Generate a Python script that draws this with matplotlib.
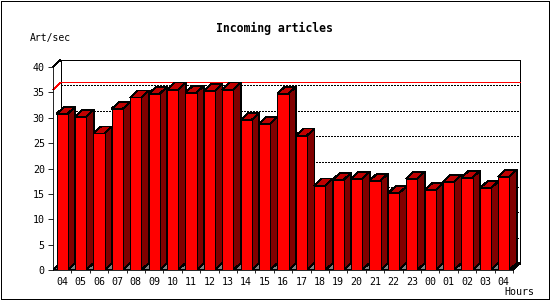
import matplotlib
matplotlib.use("Agg")
import matplotlib.pyplot as plt
from matplotlib.patches import Polygon, Rectangle
from matplotlib.ticker import FixedLocator

hours = ["04", "05", "06", "07", "08", "09", "10", "11", "12", "13", "14", "15", "16",
         "17", "18", "19", "20", "21", "22", "23", "00", "01", "02", "03", "04"]
rates = [30.8, 30.2, 26.9, 31.8, 34.0, 34.75, 35.55, 34.95, 35.3, 35.55, 29.6, 28.85, 34.75,
         26.5, 16.65, 17.8, 18.0, 17.6, 15.1, 18.0, 15.7, 17.4, 18.2, 16.1, 18.4]
yticks = [0, 5, 10, 15, 20, 25, 30, 35, 40]
title = "Incoming articles"
ylabel = "Art/sec"
xlabel = "Hours"

W, H, DPI = 550, 300, 100
fig = plt.figure(figsize=(W / DPI, H / DPI), dpi=DPI)

n = len(rates)
ymax = 40
left_px, right_px, bot_px, top_px = 53, 521, 270, 60
slot_px = 18.4
depth_x_px, depth_y_px = 7.5, 7.0
ppu_y = (bot_px - top_px - depth_y_px) / ymax
dx = depth_x_px / slot_px
dy = depth_y_px / ppu_y

ax = fig.add_axes([left_px / W, 1 - bot_px / H, (right_px - left_px) / W, (bot_px - top_px) / H])
ax.set_xlim(0, (right_px - left_px) / slot_px)
ax.set_ylim(0, ymax + dy)
ax.patch.set_visible(False)

lw = 0.6
fs = 7.2
mono = "DejaVu Sans Mono"

for s in ("top", "right"):
    ax.spines[s].set_visible(False)
ax.spines["left"].set_bounds(0, ymax)
ax.spines["bottom"].set_bounds(0, n)
for s in ("left", "bottom"):
    ax.spines[s].set_linewidth(lw)
    ax.spines[s].set_zorder(10)

def line(xs, ys, **kw):
    kw.setdefault("color", "black")
    kw.setdefault("lw", lw)
    ax.plot(xs, ys, solid_capstyle="butt", antialiased=False, clip_on=False, **kw)

# back box
line([dx, dx, n + dx, n + dx], [dy, ymax + dy, ymax + dy, dy], zorder=1)
line([0, dx], [ymax, ymax + dy], zorder=1)
# dotted grid on back plane
for v in yticks[1:-1]:
    ax.plot([dx, n + dx], [v + dy, v + dy], color="black", lw=lw, linestyle=(0, (2.4, 2.4)),
            antialiased=False, zorder=1)
# max line
m = max(rates)
line([0, dx, n + dx], [m, m + dy, m + dy], color="#ff0000", zorder=1.5)

# floor
ax.add_patch(Polygon([(0, 0), (n, 0), (n + dx, dy), (dx, dy)], closed=True,
                     fc="#808080", ec="black", lw=lw, antialiased=False, zorder=2))

# 3D bars
bw = 0.6
off = 0.2
for i, v in enumerate(rates):
    x0 = i + off
    x1 = x0 + bw
    z = 3 + i * 0.01
    ax.add_patch(Polygon([(x1, 0), (x1 + dx, dy), (x1 + dx, v + dy), (x1, v)], closed=True,
                         fc="#800000", ec="black", lw=lw, antialiased=False, zorder=z))
    ax.add_patch(Polygon([(x0, v), (x1, v), (x1 + dx, v + dy), (x0 + dx, v + dy)], closed=True,
                         fc="#c00000", ec="black", lw=lw, antialiased=False, zorder=z))
    ax.add_patch(Rectangle((x0, 0), bw, v, fc="#ff0000", ec="black", lw=lw,
                           antialiased=False, zorder=z))

line([n, n + dx], [0, dy], zorder=9)

# ticks
ax.yaxis.set_major_locator(FixedLocator(yticks))
ax.set_yticklabels([str(t) for t in yticks], fontsize=fs, family=mono)
ax.tick_params(axis="y", length=3.6, width=lw, pad=2.3, direction="out")
ax.xaxis.set_major_locator(FixedLocator([i + 0.5 for i in range(n)]))
ax.set_xticklabels(hours, fontsize=fs, family=mono)
ax.xaxis.set_minor_locator(FixedLocator([i for i in range(1, n + 1)]))
ax.tick_params(axis="x", which="major", length=0, pad=5)
ax.tick_params(axis="x", which="minor", length=2.5, width=lw, direction="out")

# texts
fig.text(274 / W, 1 - 28 / H, title, ha="center", va="center", fontsize=8.3,
         fontweight="bold", family=mono)
fig.text(30 / W, 1 - 38.5 / H, ylabel, ha="left", va="center", fontsize=7, family=mono)
fig.text(534 / W, 1 - 292 / H, xlabel, ha="right", va="center", fontsize=7.2, family=mono)

# outer frame
fig.patches.append(Rectangle((1 / W, 1 / H), (W - 2) / W, (H - 2) / H, transform=fig.transFigure,
                             fill=False, ec="black", lw=lw * 1.2, antialiased=False))

fig.savefig("out.png", dpi=DPI)
